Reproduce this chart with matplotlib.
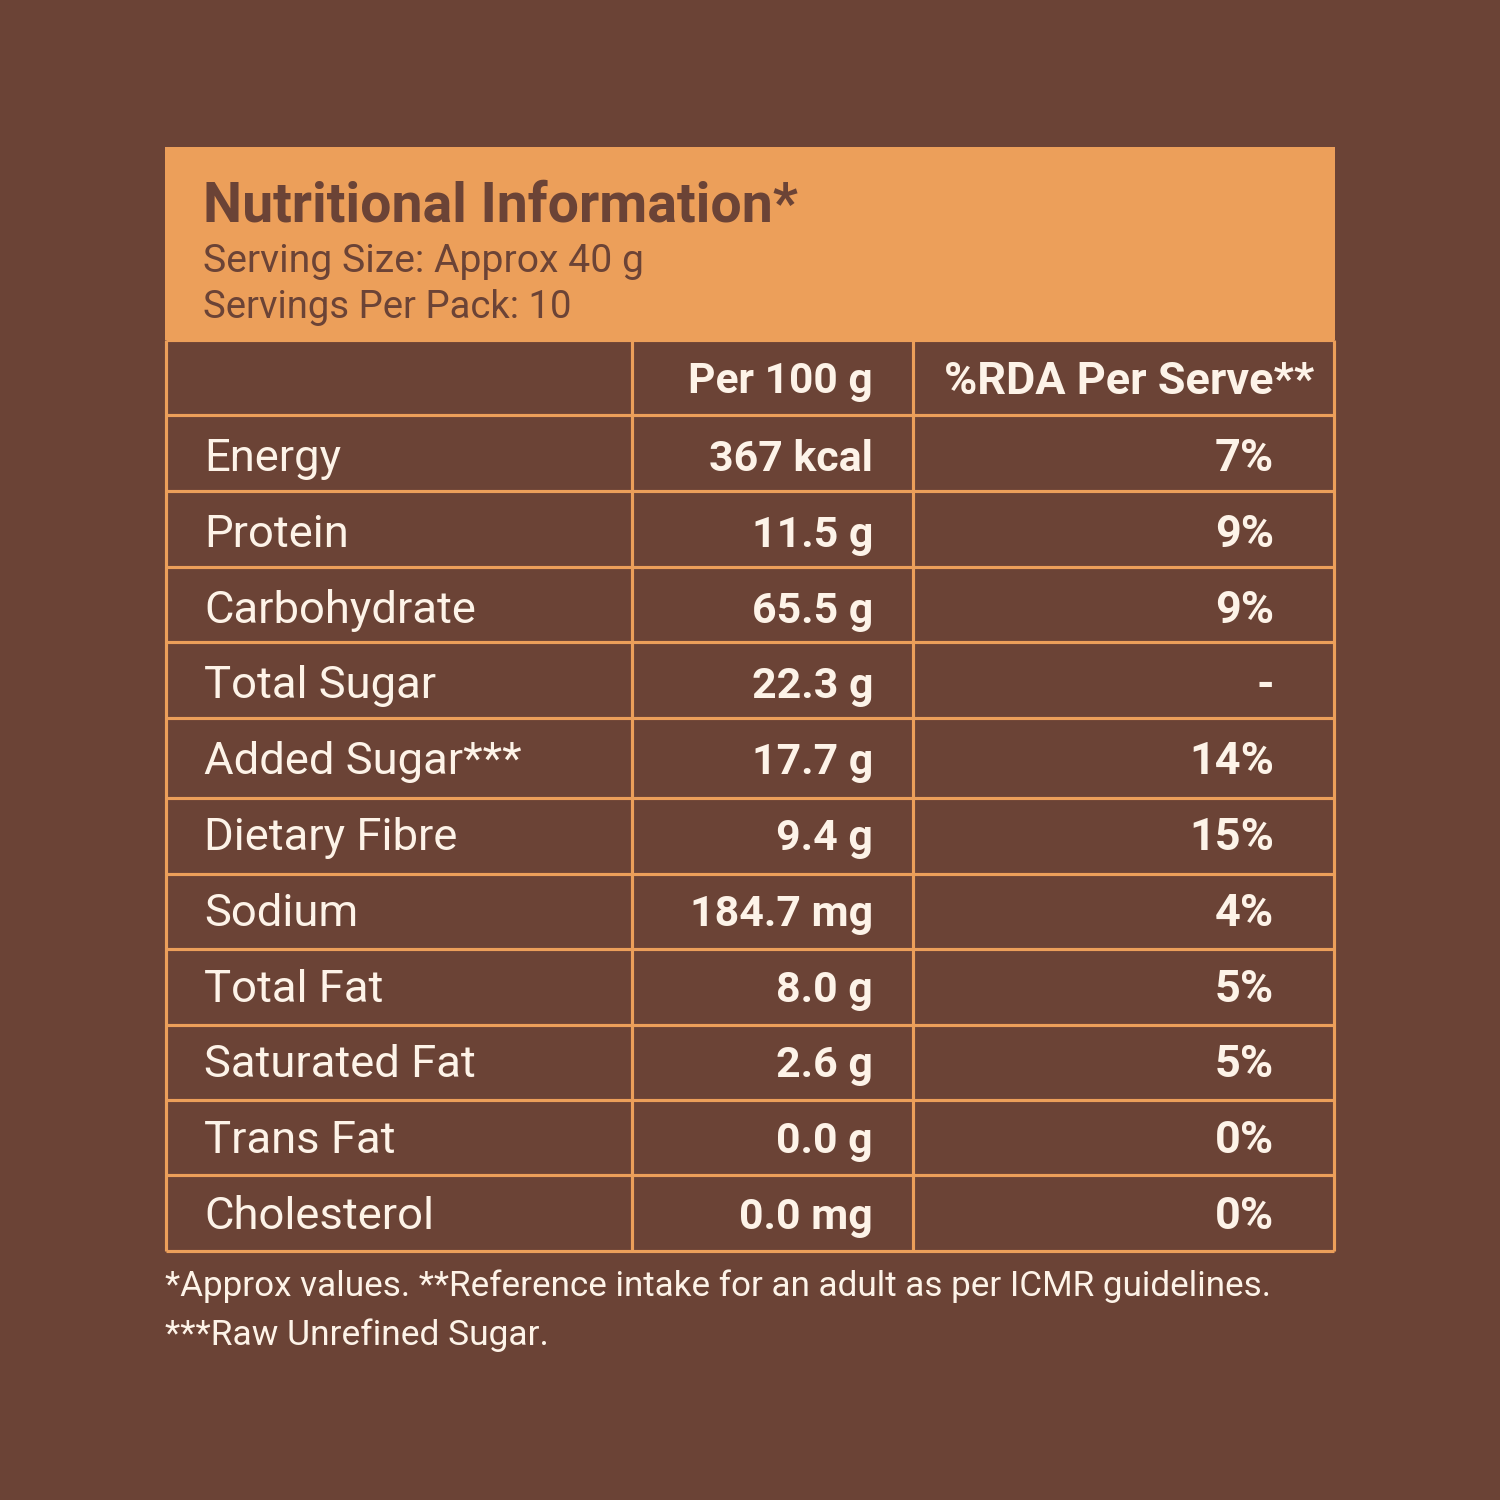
import matplotlib
matplotlib.use("Agg")
import matplotlib.pyplot as plt
from matplotlib.patches import Rectangle

BG = "#6b4336"
ORANGE = "#ec9f5a"
WHITE = "#fdf3e8"

NUTRIENTS = ["Energy", "Protein", "Carbohydrate", "Total Sugar", "Added Sugar***", "Dietary Fibre",
             "Sodium", "Total Fat", "Saturated Fat", "Trans Fat", "Cholesterol"]
PER_100G = ["367 kcal", "11.5 g", "65.5 g", "22.3 g", "17.7 g", "9.4 g", "184.7 mg", "8.0 g", "2.6 g", "0.0 g", "0.0 mg"]
RDA = ["7%", "9%", "9%", "-", "14%", "15%", "4%", "5%", "5%", "0%", "0%"]
ROW_LINES = [340, 415, 491, 567, 642, 718, 798, 874, 949, 1025, 1100, 1175, 1251]
COL_LINES = [166, 632, 913, 1334]

plt.rcParams["font.family"] = ["Roboto", "DejaVu Sans"]

fig = plt.figure(figsize=(5, 5), dpi=300, facecolor=BG)
ax = fig.add_axes([0, 0, 1, 1])
ax.set_xlim(0, 1500)
ax.set_ylim(1500, 0)
ax.axis("off")

ax.add_patch(Rectangle((165, 147), 1170, 193, color=ORANGE, lw=0))
for y in ROW_LINES:
    ax.plot([166, 1334], [y, y], color=ORANGE, lw=0.75, solid_capstyle="butt")
for x in COL_LINES:
    ax.plot([x, x], [340, 1251], color=ORANGE, lw=0.75, solid_capstyle="butt")

ax.text(203, 206, "Nutritional Information*", fontsize=13.3, fontweight="bold", color=BG, va="center")
ax.text(203, 261, "Serving Size: Approx 40 g", fontsize=9.4, color=BG, va="center")
ax.text(203, 307, "Servings Per Pack: 10", fontsize=9.2, color=BG, va="center")

ax.text(873, 381, "Per 100 g", fontsize=10.2, fontweight="bold", color=WHITE, va="center", ha="right")
ax.text(1314, 382, "%RDA Per Serve**", fontsize=10.8, fontweight="bold", color=WHITE, va="center", ha="right")

for i, name in enumerate(NUTRIENTS):
    # rows in the source are evenly spaced even where the rules are not
    y = 471 + i * 75.8
    ax.text(204, y, name, fontsize=10.9, color=WHITE, va="baseline")
    ax.text(873, y, PER_100G[i], fontsize=10.3, fontweight="bold", color=WHITE, va="baseline", ha="right")
    ax.text(1274, y, RDA[i], fontsize=10.8, fontweight="bold", color=WHITE, va="baseline", ha="right")

ax.text(165, 1286, "*Approx values. **Reference intake for an adult as per ICMR guidelines.", fontsize=8.4, color=WHITE, va="center")
ax.text(165, 1335, "***Raw Unrefined Sugar.", fontsize=8.5, color=WHITE, va="center")

fig.savefig("out.png", dpi=300, facecolor=BG)
